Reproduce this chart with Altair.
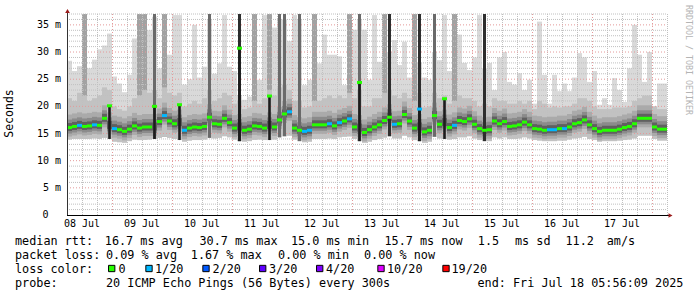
import altair as alt
import pandas as pd

# ---------------- data ----------------
day_labels = ["08 Jul", "09 Jul", "10 Jul", "11 Jul", "12 Jul",
              "13 Jul", "14 Jul", "15 Jul", "16 Jul", "17 Jul"]
label_hours = [6, 30, 54, 78, 102, 126, 150, 174, 198, 222]   # noon of each day, hours after Jul 08 06:00
y_ticks = [5, 10, 15, 20, 25, 30, 35]

# 2-hour buckets starting Jul 08 06:00
median_ms = [16.1, 16.3, 16.5, 16.3, 16.4, 16.6, 16.5, 17.8, 20.1, 15.9,
             15.7, 15.4, 15.8, 16.4, 16.0, 16.2, 16.2, 20.0, 17.2, 18.3,
             17.3, 16.8, 20.3, 15.6, 16.0, 16.2, 16.1, 16.3, 18.0, 16.8,
             16.7, 17.8, 17.0, 16.0, 30.7, 15.6, 15.8, 16.4, 16.3, 16.0,
             21.9, 16.2, 17.5, 18.6, 19.0, 16.0, 15.6, 15.4, 15.6, 16.6,
             16.6, 16.6, 16.8, 16.4, 17.0, 17.3, 17.7, 16.2, 24.4, 15.2,
             15.7, 16.2, 16.6, 17.4, 18.0, 16.7, 16.8, 18.5, 17.3, 16.0,
             19.5, 15.3, 15.6, 18.3, 16.7, 21.4, 16.1, 16.5, 17.4, 17.2,
             17.7, 16.7, 15.9, 15.6, 15.7, 17.3, 16.8, 17.2, 16.3, 16.4,
             16.6, 17.1, 16.6, 15.9, 15.8, 15.6, 15.7, 15.7, 15.9, 15.9,
             16.2, 16.8, 17.0, 17.5, 16.6, 15.9, 15.4, 15.6, 15.6, 15.6,
             15.8, 16.1, 16.3, 16.8, 17.8, 17.8, 17.8, 16.2, 15.8, 15.8]

loss_1_of_20 = [2, 5, 9, 19, 23, 44, 47, 48, 52, 54, 56, 65, 70, 77, 96, 97, 99]

smoke_top = [28.4, 26.5, 27.4, 25.4, 27.0, 28.6, 30.5, 31.2, 33.4, 25.5,
             24.2, 22.6, 25.8, 32.5, 26.0, 36.0, 34.0, 36.5, 27.0, 36.8,
             29.5, 36.8, 36.8, 24.0, 25.0, 35.0, 25.3, 27.3, 36.0, 26.0,
             27.9, 36.8, 27.3, 26.5, 22.0, 21.2, 21.8, 25.0, 24.9, 36.8,
             30.0, 34.5, 36.0, 36.0, 32.0, 36.8, 36.0, 23.9, 24.9, 27.6,
             27.9, 33.2, 29.5, 29.5, 29.2, 23.9, 34.1, 34.1, 36.0, 34.1,
             24.9, 36.8, 28.2, 30.0, 30.0, 32.2, 27.6, 31.9, 25.3, 28.0,
             28.0, 25.3, 24.9, 30.0, 28.5, 36.8, 26.5, 28.0, 33.2, 28.0,
             26.7, 29.0, 36.8, 27.0, 28.0, 23.0, 29.0, 30.0, 24.5, 24.0,
             26.1, 23.0, 24.9, 20.5, 35.6, 25.8, 20.5, 25.8, 22.8, 24.2,
             22.8, 25.3, 29.8, 29.0, 24.5, 26.5, 20.3, 21.5, 20.3, 25.2,
             23.0, 20.8, 27.0, 35.0, 29.5, 24.5, 30.0, 20.0, 24.2, 24.2]

smoke_upper = [21.5, 21.0, 22.5, 22.0, 21.0, 21.5, 22.0, 23.5, 23.0, 20.0,
               19.5, 19.2, 20.0, 21.5, 22.0, 23.0, 22.5, 23.0, 21.5, 23.5,
               22.5, 22.0, 22.5, 20.0, 20.5, 21.0, 20.5, 21.5, 23.0, 21.0,
               21.5, 22.5, 22.0, 20.5, 21.0, 19.5, 19.8, 21.0, 20.5, 21.5,
               23.0, 22.0, 23.5, 24.0, 23.0, 21.0, 21.0, 19.8, 20.0, 21.0,
               21.0, 21.5, 22.0, 21.5, 22.0, 21.5, 22.5, 21.5, 23.0, 20.0,
               20.0, 21.5, 21.5, 22.5, 23.0, 22.0, 21.5, 22.5, 21.5, 21.0,
               22.5, 19.8, 20.0, 22.5, 21.5, 22.0, 20.5, 21.0, 22.0, 21.5,
               21.5, 21.0, 20.0, 20.5, 20.0, 21.5, 21.0, 21.0, 20.5, 20.5,
               21.0, 20.5, 21.0, 19.5, 21.0, 20.5, 19.8, 20.0, 19.8, 20.0,
               20.0, 20.5, 21.5, 21.5, 21.0, 20.0, 19.5, 19.5, 19.5, 19.8,
               19.8, 19.8, 20.0, 21.0, 21.5, 22.0, 22.0, 20.0, 19.5, 19.5]

smoke_bottom = [13.9, 14.0, 14.0, 14.0, 14.0, 14.1, 14.0, 14.2, 14.0, 13.5,
                13.4, 13.3, 13.6, 13.9, 13.8, 13.9, 13.9, 14.0, 14.2, 14.4,
                14.2, 14.0, 13.8, 13.5, 13.7, 13.8, 13.8, 13.9, 14.2, 14.1,
                14.2, 14.5, 14.3, 13.9, 13.6, 13.5, 13.6, 13.9, 13.9, 13.8,
                13.8, 13.9, 14.3, 14.5, 14.6, 13.9, 13.6, 13.4, 13.5, 14.0,
                14.0, 14.0, 14.1, 14.0, 14.3, 14.4, 14.5, 14.0, 13.6, 13.3,
                13.5, 13.8, 14.0, 14.3, 14.5, 14.1, 14.1, 14.6, 14.3, 13.8,
                13.6, 13.3, 13.5, 14.4, 14.1, 14.0, 13.9, 14.0, 14.3, 14.3,
                14.5, 14.1, 13.8, 13.6, 13.6, 14.3, 14.1, 14.3, 14.0, 14.0,
                14.1, 14.3, 14.1, 13.8, 13.7, 13.6, 13.6, 13.6, 13.7, 13.7,
                13.9, 14.1, 14.2, 14.4, 14.0, 13.8, 13.5, 13.6, 13.6, 13.6,
                13.7, 13.8, 13.9, 14.1, 14.6, 14.6, 14.6, 14.0, 13.7, 13.7]

# buckets whose pings were spread over the whole range (density level 1..3)
tall_idx = [3, 14, 15, 17, 19, 28, 34, 37, 40, 42, 43, 46, 49, 56, 58, 63, 64, 69, 70, 73, 77, 83]
tall_level = [1, 1, 1, 2, 1, 2, 3, 1, 1, 2, 2, 2, 1, 1, 2, 1, 3, 1, 3, 2, 1, 3]

# buckets where the median jumps up (bulk of smoke stays near spike_base)
spike_idx = [8, 17, 22, 34, 40, 58, 70, 75]
spike_base = [16.5, 16.2, 17.0, 16.2, 16.5, 16.0, 16.2, 17.0]

legend_line1 = ["median rtt:", "16.7 ms avg", "30.7 ms max", "15.0 ms min",
                "15.7 ms now", "1.5", "ms sd", "11.2", "am/s"]
legend_line2 = ["packet loss:", "0.09 % avg", "1.67 % max", "0.00 % min", "0.00 % now"]
loss_labels = ["0", "1/20", "2/20", "3/20", "4/20", "10/20", "19/20"]
loss_colors = ["#26ff00", "#00b8ff", "#0059ff", "#5e00ff", "#7e00ff", "#dd00ff", "#ff0000"]
legend_line4 = ["probe:", "20 ICMP Echo Pings (56 Bytes) every 300s",
                "end: Fri Jul 18 05:56:09 2025"]

assert len(median_ms) == len(smoke_top) == len(smoke_upper) == len(smoke_bottom) == 120

# ---------------- layout / style ----------------
W, H = 600, 201
YMAX = 37.0
FONT = "DejaVu Sans Mono"
LFS = 11.8
OX, OY = 67, 14          # plot origin on the canvas

xs = alt.Scale(domain=[0, 240], nice=False, zero=False)
ys = alt.Scale(domain=[0, YMAX], nice=False, zero=True)

n = len(median_ms)
base_of = {i: b for i, b in zip(spike_idx, spike_base)}
cols = pd.DataFrame({
    "x0": [2 * i for i in range(n)],
    "x1": [2 * i + 2 for i in range(n)],
    "med": median_ms,
    "top": smoke_top,
    "upper": smoke_upper,
    "bottom": smoke_bottom,
    "core": [base_of.get(i, m) for i, m in enumerate(median_ms)],
    "spike": [i in base_of for i in range(n)],
    "mcolor": [loss_colors[1] if i in loss_1_of_20 else loss_colors[0] for i in range(n)],
})

X = alt.X("x0:Q", scale=xs, axis=None)
X2 = alt.X2("x1:Q")
def Y(f):
    return alt.Y(f, scale=ys, axis=None)

base = alt.Chart(cols)

light = base.mark_rect(color="#d9d9d9").encode(x=X, x2=X2, y=Y("bottom:Q"), y2="top:Q")

level_color = {1: "#a2a2a2", 2: "#6a6a6a", 3: "#2e2e2e"}
tall_df = pd.DataFrame({
    "x0": [2 * i for i in tall_idx],
    "x1": [2 * i + 2 for i in tall_idx],
    "bottom": [smoke_bottom[i] for i in tall_idx],
    "c": [level_color[l] for l in tall_level],
    "wide": [l == 1 for l in tall_level],
})
tall_wide = alt.Chart(tall_df).transform_filter("datum.wide").mark_rect().encode(
    x=X, x2=X2, y=Y("bottom:Q"), y2=alt.value(0), color=alt.Color("c:N", scale=None))
tall_narrow = alt.Chart(tall_df).transform_filter("!datum.wide").mark_rect(
    xOffset=1, x2Offset=-1).encode(
    x=X, x2=X2, y=Y("bottom:Q"), y2=alt.value(0), color=alt.Color("c:N", scale=None))

upper = base.mark_rect(color="#c2c2c2").encode(x=X, x2=X2, y=Y("bottom:Q"), y2="upper:Q")

def core_band(down, up, color):
    return base.mark_rect(color=color, yOffset=down, y2Offset=-up).encode(
        x=X, x2=X2, y=Y("core:Q"), y2="core:Q")

band_a = core_band(9, 13, "#aaaaaa")
band_b = core_band(6, 8, "#8b8b8b")
band_c = core_band(3.5, 4.5, "#606060")

spikes = base.transform_filter("datum.spike").mark_rect(
    color="#1c1c1c", xOffset=1.2, x2Offset=-1.2).encode(
    x=X, x2=X2, y=Y("bottom:Q"), y2="med:Q")

median = base.mark_rect(yOffset=1.5, y2Offset=-1.5).encode(
    x=X, x2=X2, y=Y("med:Q"), y2="med:Q", color=alt.Color("mcolor:N", scale=None))

# grid
minor_x = pd.DataFrame({"h": [h for h in range(6, 241, 6) if (h - 18) % 24 != 0]})
major_x = pd.DataFrame({"h": [18 + 24 * k for k in range(10)]})
minor_y = pd.DataFrame({"v": [v for v in range(1, 38) if v % 5 != 0]})
major_y = pd.DataFrame({"v": [5, 10, 15, 20, 25, 30, 35]})

gx_minor = alt.Chart(minor_x).mark_rule(color="#c0c0c0", strokeDash=[1, 1], xOffset=0.5).encode(
    x=alt.X("h:Q", scale=xs, axis=None), y=alt.value(0), y2=alt.value(H))
gy_minor = alt.Chart(minor_y).mark_rule(color="#c0c0c0", strokeDash=[1, 1]).encode(
    y=Y("v:Q"), x=alt.value(0), x2=alt.value(W))
gx_major = alt.Chart(major_x).mark_rule(color="#e49a9a", strokeDash=[1, 2], xOffset=0.5).encode(
    x=alt.X("h:Q", scale=xs, axis=None), y=alt.value(0), y2=alt.value(H + 3))
gy_major = alt.Chart(major_y).mark_rule(color="#e49a9a", strokeDash=[1, 2]).encode(
    y=Y("v:Q"), x=alt.value(0), x2=alt.value(W))

x_axis = alt.Chart(pd.DataFrame({"a": [0]})).mark_rule(color="#000", yOffset=0.5).encode(
    x=alt.value(0), x2=alt.value(W + 3), y=alt.value(H))
y_axis = alt.Chart(pd.DataFrame({"a": [0]})).mark_rule(color="#333", xOffset=0.5).encode(
    x=alt.value(0), y=alt.value(H), y2=alt.value(-3))
arrow_up = alt.Chart(pd.DataFrame({"a": [0]})).mark_point(
    shape="triangle-up", filled=True, size=22, color="#9b1c1c", opacity=1).encode(
    x=alt.value(0.5), y=alt.value(-3))
arrow_right = alt.Chart(pd.DataFrame({"a": [0]})).mark_point(
    shape="triangle-right", filled=True, size=22, color="#9b1c1c", opacity=1).encode(
    x=alt.value(W + 3.5), y=alt.value(H + 0.5))

# tick labels
x_labels = alt.Chart(pd.DataFrame({"h": label_hours, "t": day_labels})).mark_text(
    font=FONT, fontSize=10, color="#000", align="center", baseline="middle").encode(
    x=alt.X("h:Q", scale=xs, axis=None), y=alt.value(224 - OY), text="t:N")
y_labels = alt.Chart(pd.DataFrame({"v": y_ticks, "t": ["%d m" % v for v in y_ticks]})).mark_text(
    font=FONT, fontSize=10, color="#000", align="right", baseline="middle").encode(
    y=Y("v:Q"), x=alt.value(61 - OX), text="t:N")
y_zero = alt.Chart(pd.DataFrame({"v": [0], "t": ["0"]})).mark_text(
    font=FONT, fontSize=10, color="#000", align="right", baseline="middle").encode(
    y=Y("v:Q"), x=alt.value(48.5 - OX), text="t:N")

# legend / texts (pixel positions on the canvas)
def txt(s, cx, cy, size=LFS, color="#000", angle=0, align="left"):
    return alt.Chart(pd.DataFrame({"t": [s]})).mark_text(
        font=FONT, fontSize=size, color=color, angle=angle, align=align, baseline="middle").encode(
        text="t:N", x=alt.value(cx - OX), y=alt.value(cy - OY))

texts = []
line1_x = [15, 104.8, 199.5, 291, 384.5, 477.8, 515, 565.5, 606.7]
for s, px in zip(legend_line1, line1_x):
    texts.append(txt(s, px, 241))
line2_x = [15, 106, 190.8, 278, 364]
for s, px in zip(legend_line2, line2_x):
    texts.append(txt(s, px, 255))
texts.append(txt("loss color:", 15, 268.5))
sw_x = [111.7, 149, 206, 262.7, 319.7, 381, 446]
lab_x = [118.5, 155, 212.5, 269, 326, 387, 451.5]
for s, c, px, lx in zip(loss_labels, loss_colors, sw_x, lab_x):
    texts.append(alt.Chart(pd.DataFrame({"a": [0]})).mark_point(
        shape="square", filled=True, size=40, color=c, stroke="#000", strokeWidth=1, opacity=1).encode(
        x=alt.value(px - OX), y=alt.value(268.5 - OY)))
    texts.append(txt(s, lx, 268.5))
line4_x = [15, 106, 477.5]
for s, px in zip(legend_line4, line4_x):
    texts.append(txt(s, px, 282.5))

texts.append(txt("Seconds", 10, 113.5, size=11.5, angle=270, align="center"))
texts.append(txt("RRDTOOL / TOBI OETIKER", 687.5, 60, size=8.3, color="#b4b4b4", angle=90, align="center"))

chart = alt.layer(
    light, tall_wide, upper,
    gx_minor, gy_minor, gx_major, gy_major,
    band_a, band_b, band_c, tall_narrow, spikes, median,
    x_axis, y_axis, arrow_up, arrow_right, x_labels, y_labels, y_zero,
    *texts
).properties(
    width=W, height=H,
    autosize=alt.AutoSizeParams(type="none"),
    padding={"left": OX, "top": OY, "right": 697 - OX - W, "bottom": 297 - OY - H},
    background="#ffffff",
).configure_view(stroke=None)

chart.save("out.html", embed_options={"renderer": "svg", "actions": False})
